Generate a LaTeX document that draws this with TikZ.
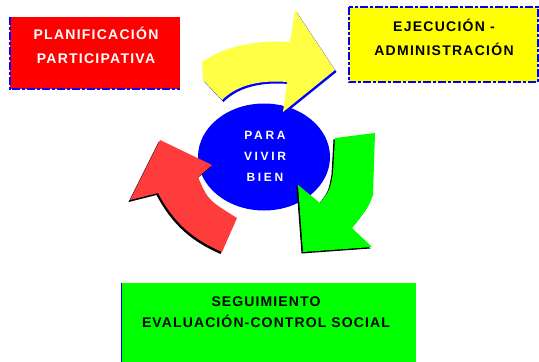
\documentclass[tikz,border=0pt]{standalone}
\usepackage{fontspec}
\setmainfont{Liberation Sans}
\usetikzlibrary{shapes.geometric}
\definecolor{pred}{RGB}{255,0,0}
\definecolor{pyel}{RGB}{255,255,0}
\definecolor{pgrn}{RGB}{0,255,0}
\definecolor{pblu}{RGB}{0,0,255}
\definecolor{arred}{RGB}{255,60,60}
\definecolor{aryel}{RGB}{255,255,70}
\newcommand\yarrowshape[1]{\fill[#1] (202,62) .. controls (225,46) and (255,40) .. (290,42) -- (295,10) -- (335,70) -- (283,112) -- (287,82) .. controls (262,80) and (238,84) .. (222,100) -- (203,80) -- cycle;}
\newcommand\garrowshape[1]{\fill[#1] (335,138) -- (375,133) -- (373,195) .. controls (368,208) .. (352,228) -- (372,247) -- (303,252) -- (298,185) -- (320,203) .. controls (330,190) .. (333,173) -- cycle;}
\newcommand\rarrowshape[1]{\fill[#1] (160,140) -- (212,165) -- (198,177) .. controls (208,200) .. (237,218) -- (222,252) .. controls (195,240) and (175,225) .. (158,193) -- (130,200) -- cycle;}
\begin{document}
\begin{tikzpicture}[x=1pt,y=-1pt,
  boxtxt/.style={font=\bfseries\fontsize{14}{24}\selectfont\addfontfeatures{LetterSpace=9}, align=center, inner sep=0pt},
  cirtxt/.style={font=\bfseries\fontsize{12}{21}\selectfont\addfontfeatures{LetterSpace=22}, align=center, inner sep=0pt, text=white},
  panel/.style={rectangle, inner sep=0pt, draw=none}]
\useasboundingbox (0,0) rectangle (539,362);
\fill[white] (0,0) rectangle (539,362);
% boxes
\node[panel, fill=pred, minimum width=170pt, minimum height=72pt] (plan) at (95,53) {};
\draw[pblu, line width=2.5pt, dash pattern=on 8pt off 2pt on 3pt off 2pt] (plan.north west) -- (plan.south west) -- (plan.south east);
\node[boxtxt, text=white] (plantxt) at (96,45.5) {PLANIFICACIÓN\\PARTICIPATIVA};

\node[panel, fill=pyel, minimum width=189pt, minimum height=75pt] (ejec) at (443.5,44.5) {};
\draw[pblu, line width=1.5pt, dash pattern=on 8pt off 2pt on 3pt off 2pt] (ejec.north west) rectangle (ejec.south east);
\node[boxtxt, text=black] (ejectxt) at (444,37) {EJECUCIÓN -\\ADMINISTRACIÓN};

\node[panel, fill=pgrn, minimum width=294pt, minimum height=79pt] (seg) at (269,322.5) {};
\draw[pblu, line width=1.2pt] (seg.north west) -- (seg.south west);
\node[boxtxt, text=black, font=\bfseries\fontsize{14}{21}\selectfont\addfontfeatures{LetterSpace=8}] (segtxt) at (266,312.5) {SEGUIMIENTO\\EVALUACIÓN-CONTROL SOCIAL};

% central ellipse
\node[ellipse, fill=pblu, minimum width=132pt, minimum height=107pt, inner sep=0pt] (centro) at (264,157) {};

% arrows
\yarrowshape{pblu, shift={(1.5,2)}}
\yarrowshape{aryel}
\garrowshape{black, shift={(-1.5,1.5)}}
\garrowshape{pgrn}
\rarrowshape{black, shift={(-1.5,2)}}
\rarrowshape{arred}

\node[cirtxt] (centrotxt) at (265,156) {PARA\\VIVIR\\BIEN};
\end{tikzpicture}
\end{document}
